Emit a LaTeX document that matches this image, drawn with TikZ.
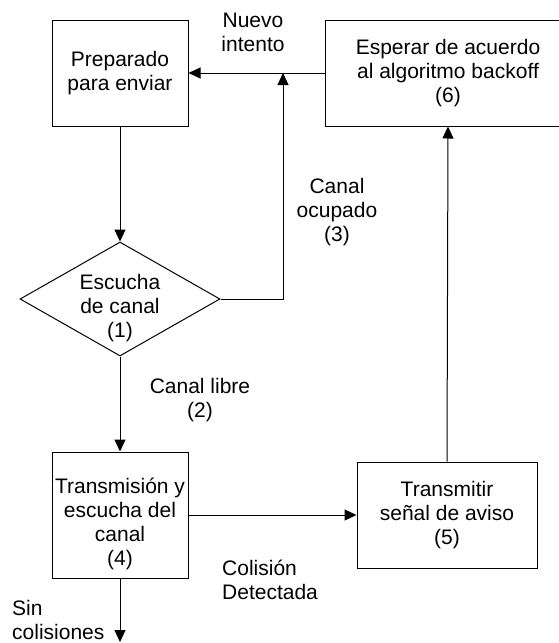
\documentclass[tikz,border=0pt]{standalone}
\usepackage{fontspec}
\setmainfont{Liberation Sans}
\usetikzlibrary{shapes.geometric, arrows.meta}
\tikzset{
    > = {Triangle[length = 12pt, width = 11pt]},
    box/.style = {draw, line width = 1pt, minimum width = 136pt, minimum height = 106pt,
                  align = center, inner sep = 0pt, font = \fontsize{21}{24}\selectfont},
    txt/.style = {align = center, inner sep = 0pt, font = \fontsize{21}{24}\selectfont},
    flow/.style = {->, line width = 1pt}
}

\begin{document}
\begin{tikzpicture}[x = 1pt, y = -1pt]
    \useasboundingbox (0, 0) rectangle (559, 643);

    \node[box] (preparado) at (120, 73) {Preparado\\para enviar};
    \node[box, minimum width = 246pt] (backoff) at (448, 73) {Esperar de acuerdo\\al algoritmo backoff\\(6)};
    \node[draw, diamond, line width = 1pt, minimum width = 200pt, minimum height = 114pt, inner sep = 0pt] (escucha) at (120, 299) {};
    \node[txt] (escuchatxt) at (120, 308) {Escucha\\de canal\\(1)};
    \node[box, minimum height = 126pt] (transm) at (120, 515) {};
    \node[txt] (transmtxt) at (120, 524) {Transmisión y\\escucha del\\canal\\(4)};
    \node[box, minimum width = 180pt] (aviso) at (447, 515) {Transmitir\\señal de aviso\\(5)};

    \coordinate (junta) at (283, 73);
    \coordinate (fin) at (120, 642);

    \draw[flow] (backoff.west) -- (preparado.east);
    \draw[flow] (escucha.east) -| (junta);
    \draw[flow] (preparado.south) -- (escucha.north);
    \draw[flow] (escucha.south) -- (transm.north);
    \draw[flow] (transm.east) -- (aviso.west);
    \draw[flow] (aviso.north) -- (backoff.south);
    \draw[flow] (transm.south) -- (fin);

    \node[txt] (nuevo) at (253, 32) {Nuevo\\intento};
    \node[txt] (ocupado) at (337, 212) {Canal\\ocupado\\(3)};
    \node[txt] (libre) at (200, 400) {Canal libre\\(2)};
    \node[txt, align = left, anchor = west] (colision) at (222, 580) {Colisión\\Detectada};
    \node[txt, align = left, anchor = west] (sincol) at (12, 620) {Sin\\colisiones};
\end{tikzpicture}
\end{document}
